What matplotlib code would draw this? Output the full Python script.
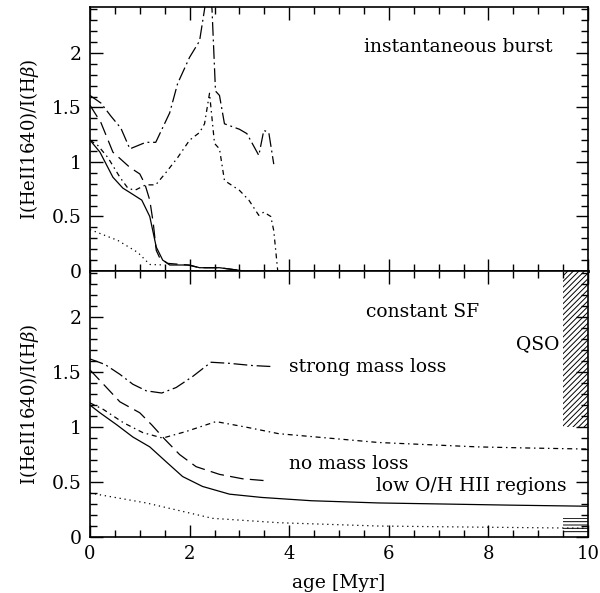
import numpy as np
import matplotlib
matplotlib.use('Agg')
import matplotlib.pyplot as plt
from matplotlib.ticker import MultipleLocator, FuncFormatter

plt.rcParams['font.family'] = 'DejaVu Serif'
plt.rcParams['mathtext.fontset'] = 'dejavuserif'
plt.rcParams['hatch.linewidth'] = 0.7

# ---- instantaneous burst (top panel) ----
burst_strong_x = [0.0, 0.22, 0.42, 0.62, 0.8, 1.12, 1.32, 1.6, 1.76, 2.0, 2.2, 2.3, 2.38, 2.45, 2.52, 2.6, 2.7, 3.0, 3.15, 3.39, 3.49, 3.59, 3.69]
burst_strong_y = [1.61, 1.54, 1.42, 1.31, 1.12, 1.18, 1.18, 1.45, 1.72, 1.96, 2.11, 2.4, 2.7, 2.4, 1.65, 1.61, 1.35, 1.3, 1.26, 1.06, 1.29, 1.27, 0.98]

burst_mid_x = [0.0, 0.16, 0.36, 0.6, 0.76, 0.9, 1.12, 1.32, 1.52, 1.76, 2.0, 2.2, 2.3, 2.4, 2.5, 2.6, 2.7, 3.0, 3.19, 3.39, 3.49, 3.63, 3.69, 3.77]
burst_mid_y = [1.2, 1.15, 1.04, 0.86, 0.76, 0.74, 0.79, 0.79, 0.9, 1.04, 1.2, 1.27, 1.35, 1.63, 1.17, 1.12, 0.83, 0.74, 0.65, 0.51, 0.54, 0.5, 0.37, 0.0]

burst_nomass_x = [0.0, 0.22, 0.46, 0.8, 1.0, 1.1, 1.2, 1.27, 1.33, 1.4, 1.56, 1.96, 2.2, 2.6, 3.1]
burst_nomass_y = [1.52, 1.36, 1.09, 0.95, 0.89, 0.8, 0.65, 0.44, 0.19, 0.12, 0.07, 0.055, 0.03, 0.03, 0.0]

burst_low_x = [0.0, 0.2, 0.46, 0.66, 0.8, 1.04, 1.2, 1.27, 1.33, 1.46, 1.6, 2.0, 2.2, 2.6, 3.1]
burst_low_y = [1.2, 1.09, 0.86, 0.76, 0.72, 0.65, 0.5, 0.35, 0.22, 0.1, 0.055, 0.055, 0.03, 0.03, 0.0]

burst_dot_x = [0.0, 0.56, 0.96, 1.2, 1.5]
burst_dot_y = [0.38, 0.28, 0.17, 0.06, 0.055]

# ---- constant SF (bottom panel) ----
const_strong_x = [0.0, 0.3, 0.6, 0.86, 1.13, 1.44, 1.73, 2.06, 2.43, 2.8, 3.26, 3.69]
const_strong_y = [1.62, 1.57, 1.48, 1.39, 1.33, 1.31, 1.36, 1.46, 1.59, 1.58, 1.56, 1.55]

const_nomass_x = [0.0, 0.27, 0.6, 1.0, 1.24, 1.5, 1.8, 2.13, 2.6, 3.06, 3.59]
const_nomass_y = [1.52, 1.39, 1.23, 1.13, 1.02, 0.89, 0.75, 0.64, 0.57, 0.53, 0.51]

const_mid_x = [0.0, 0.27, 0.67, 1.06, 1.46, 1.93, 2.53, 3.13, 3.79, 4.79, 5.79, 6.79, 7.78, 8.78, 10.0]
const_mid_y = [1.22, 1.16, 1.04, 0.95, 0.9, 0.96, 1.05, 1.0, 0.94, 0.9, 0.86, 0.84, 0.82, 0.81, 0.8]

const_low_x = [0.0, 0.2, 0.54, 0.86, 1.2, 1.54, 1.86, 2.26, 2.8, 3.45, 4.45, 5.79, 7.13, 8.44, 10.0]
const_low_y = [1.2, 1.13, 1.02, 0.91, 0.82, 0.68, 0.55, 0.46, 0.39, 0.36, 0.33, 0.31, 0.3, 0.29, 0.28]

const_dot_x = [0.0, 1.13, 2.46, 3.8, 5.79, 7.78, 10.0]
const_dot_y = [0.40, 0.31, 0.17, 0.13, 0.10, 0.09, 0.08]

# observed ranges
qso_x = [9.5, 10.0]
qso_y = [1.0, 2.5]
hii_x = [9.5, 10.0]
hii_y = [0.04, 0.17]

ls_strong = (0, (11, 3, 1.5, 3))
ls_mid = (0, (4, 3, 1.2, 3))
ls_nomass = (0, (11, 5))
ls_dot = (0, (1, 3))

fs = 13.5

fig = plt.figure(figsize=(6.0, 5.93), dpi=100)
ax1 = fig.add_axes([0.15, 0.543, 0.83, 0.445])
ax2 = fig.add_axes([0.15, 0.0944, 0.83, 0.4486])

fmt = FuncFormatter(lambda v, p: '%g' % v)
for ax in (ax1, ax2):
    ax.set_xlim(0, 10)
    ax.set_ylim(0, 2.42)
    ax.xaxis.set_major_locator(MultipleLocator(2))
    ax.xaxis.set_minor_locator(MultipleLocator(0.5))
    ax.yaxis.set_major_locator(MultipleLocator(0.5))
    ax.yaxis.set_minor_locator(MultipleLocator(0.1))
    ax.yaxis.set_major_formatter(fmt)
    ax.xaxis.set_major_formatter(fmt)
    ax.tick_params(which='both', direction='in', top=True, right=True, labelsize=fs)
    ax.tick_params(axis='x', labelsize=13)
    ax.tick_params(which='major', length=9, width=1, pad=6)
    ax.tick_params(which='minor', length=5, width=1)
    for s in ax.spines.values():
        s.set_linewidth(1.2)
    ax.set_ylabel(r'I(HeII1640)/I(H$\beta$)', fontsize=13, labelpad=8)

ax1.tick_params(labelbottom=False)
ax1.spines['bottom'].set_linewidth(2)

ax1.plot(burst_strong_x, burst_strong_y, color='k', lw=0.9, ls=ls_strong)
ax1.plot(burst_mid_x, burst_mid_y, color='k', lw=0.9, ls=ls_mid)
ax1.plot(burst_nomass_x, burst_nomass_y, color='k', lw=0.9, ls=ls_nomass)
ax1.plot(burst_low_x, burst_low_y, color='k', lw=0.9)
ax1.plot(burst_dot_x, burst_dot_y, color='k', lw=0.9, ls=ls_dot)
ax1.text(5.5, 2.05, 'instantaneous burst', fontsize=fs, va='center')

ax2.plot(const_strong_x, const_strong_y, color='k', lw=0.9, ls=ls_strong)
ax2.plot(const_mid_x, const_mid_y, color='k', lw=0.9, ls=ls_mid)
ax2.plot(const_nomass_x, const_nomass_y, color='k', lw=0.9, ls=ls_nomass)
ax2.plot(const_low_x, const_low_y, color='k', lw=0.9)
ax2.plot(const_dot_x, const_dot_y, color='k', lw=0.9, ls=ls_dot)

ax2.fill_between(qso_x, qso_y[0], qso_y[1], facecolor='none', edgecolor='k',
                 hatch='//////', linewidth=0)
ax2.fill_between(hii_x, hii_y[0], hii_y[1], facecolor='none', edgecolor='k',
                 hatch='-----', linewidth=0)

ax2.text(5.55, 2.05, 'constant SF', fontsize=fs, va='center')
ax2.text(8.55, 1.75, 'QSO', fontsize=fs, va='center')
ax2.text(4.0, 1.55, 'strong mass loss', fontsize=fs, va='center')
ax2.text(4.0, 0.66, 'no mass loss', fontsize=fs, va='center')
ax2.text(5.75, 0.46, 'low O/H HII regions', fontsize=fs, va='center')
ax2.set_xlabel('age [Myr]', fontsize=fs, labelpad=8)

fig.savefig('out.png', dpi=100)
